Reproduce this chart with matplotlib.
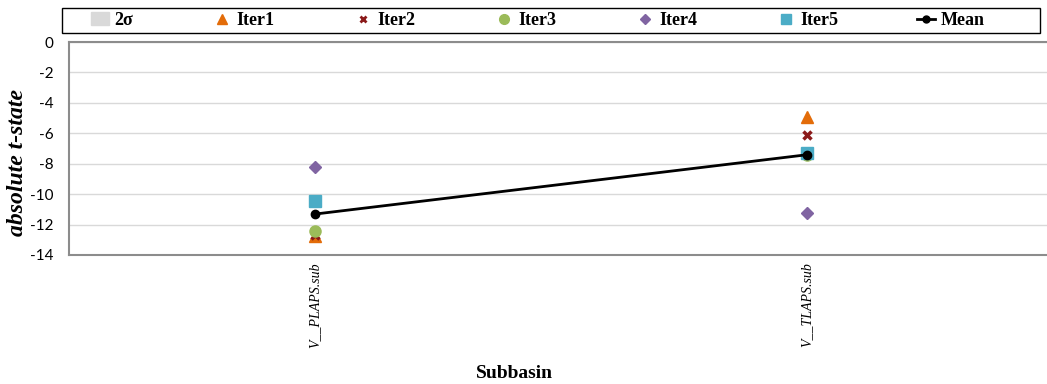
import matplotlib.pyplot as plt
from matplotlib.patches import Patch, Rectangle
from matplotlib.lines import Line2D

# t-state per subbasin for each calibration iteration
subbasins = ['V__PLAPS.sub', 'V__TLAPS.sub']
iter1 = [-12.75, -4.93]
iter2 = [-12.70, -6.12]
iter3 = [-12.43, -7.43]
iter4 = [-8.22, -11.25]
iter5 = [-10.46, -7.30]
mean = [-11.31, -7.41]

yticks = [0, -2, -4, -6, -8, -10, -12, -14]

fig = plt.figure(figsize=(10.47, 3.84), dpi=100)
ax = fig.add_axes([69/1047, 1-255/384, 984/1047, 213/384])

x = list(range(len(subbasins)))
ax.plot(x, iter1, ls='none', marker='^', ms=8, color='#E36C09', zorder=4)
ax.plot(x, iter2, ls='none', marker='x', ms=6, mew=2.5, color='#8B1A1A', zorder=4)
ax.plot(x, iter3, ls='none', marker='o', ms=8, color='#9BBB59', zorder=4)
ax.plot(x, iter4, ls='none', marker='D', ms=6, color='#8064A2', zorder=4)
ax.plot(x, iter5, ls='none', marker='s', ms=8, color='#4BACC6', zorder=5)
ax.plot(x, mean, color='black', lw=2, marker='o', ms=6, zorder=6)

ax.set_xlim(-0.5, 1.5)
ax.set_ylim(-14, 0)
ax.set_yticks(yticks)
ax.set_yticklabels([str(v) for v in yticks], family='Lato', fontsize=11)
ax.set_xticks(x)
ax.set_xticklabels(subbasins, rotation=90, family='Liberation Serif',
                   style='italic', fontsize=10, va='top')
ax.tick_params(axis='both', length=0)
ax.tick_params(axis='y', pad=11)
ax.tick_params(axis='x', pad=5)
ax.grid(axis='y', color='#d9d9d9', lw=1)
ax.set_axisbelow(True)
for s in ['left', 'top', 'bottom']:
    ax.spines[s].set_color('#8c8c8c')
    ax.spines[s].set_linewidth(1.5)
ax.spines['right'].set_visible(False)

fig.text(18/1047, 1-162/384, 'absolute t-state', family='Liberation Serif',
         weight='bold', style='italic', fontsize=17, rotation=90,
         ha='center', va='center')
fig.text(514/1047, 1-373/384, 'Subbasin', family='Liberation Serif', weight='bold',
         fontsize=14, ha='center', va='center')

# legend frame spans the full width above the plot
fig.patches.append(Rectangle((62/1047, 1-33/384), 978/1047, 25/384,
                             transform=fig.transFigure, fill=False,
                             edgecolor='black', lw=1.0))

handles = [
    Patch(color='#d9d9d9'),
    Line2D([], [], ls='none', marker='^', ms=7, color='#E36C09'),
    Line2D([], [], ls='none', marker='x', ms=5, mew=2, color='#8B1A1A'),
    Line2D([], [], ls='none', marker='o', ms=7, color='#9BBB59'),
    Line2D([], [], ls='none', marker='D', ms=5, color='#8064A2'),
    Line2D([], [], ls='none', marker='s', ms=7, color='#4BACC6'),
    Line2D([], [], color='black', lw=2, marker='o', ms=5),
]
labels = ['2σ', 'Iter1', 'Iter2', 'Iter3', 'Iter4', 'Iter5', 'Mean']
leg = fig.legend(handles, labels, ncol=7, loc='center',
                 bbox_to_anchor=(538/1047, 1-20.5/384),
                 frameon=False, handlelength=1.0, handletextpad=0.3,
                 columnspacing=4.4, borderaxespad=0,
                 prop={'family': 'Liberation Serif', 'weight': 'bold', 'size': 13})

fig.savefig('out.png', dpi=100)
